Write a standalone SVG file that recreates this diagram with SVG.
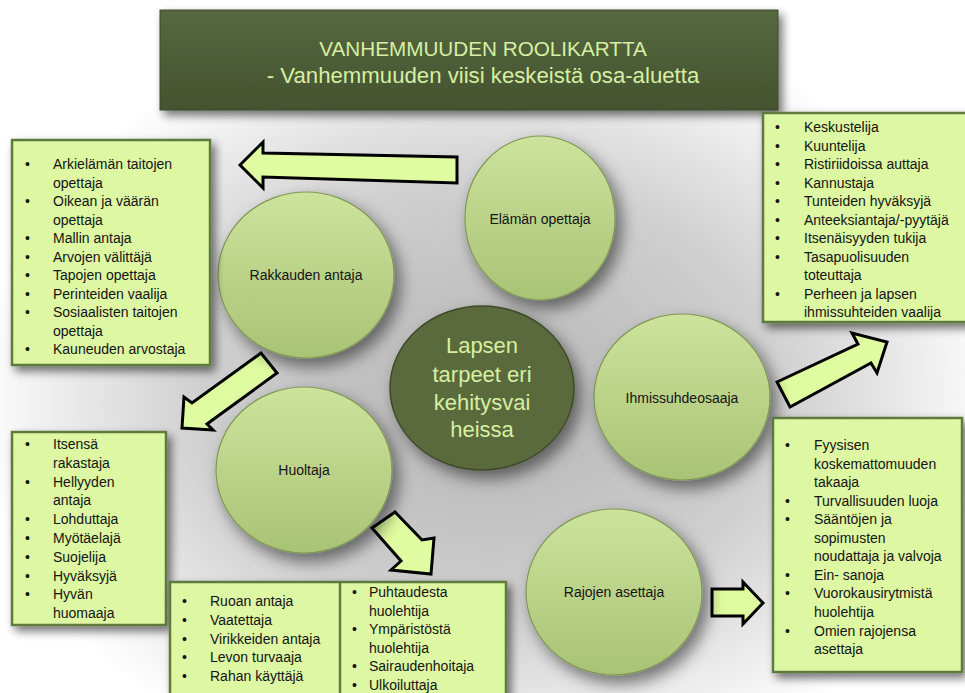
<svg xmlns="http://www.w3.org/2000/svg" width="965" height="693" viewBox="0 0 965 693">
<defs>
  <radialGradient id="bg" cx="490" cy="400" r="520" gradientUnits="userSpaceOnUse" gradientTransform="translate(490 400) scale(1 0.75) translate(-490 -400)">
    <stop offset="0" stop-color="#b4b4b4"/>
    <stop offset="0.55" stop-color="#cfcfcf"/>
    <stop offset="1" stop-color="#ffffff"/>
  </radialGradient>
  <linearGradient id="titleG" x1="0" y1="0" x2="0" y2="1">
    <stop offset="0" stop-color="#566841"/>
    <stop offset="1" stop-color="#45522f"/>
  </linearGradient>
  <linearGradient id="circG" x1="0" y1="0" x2="0" y2="1">
    <stop offset="0" stop-color="#cde39c"/>
    <stop offset="1" stop-color="#a9c376"/>
  </linearGradient>
  <filter id="sh" x="-20%" y="-20%" width="150%" height="150%">
    <feGaussianBlur in="SourceAlpha" stdDeviation="5"/>
    <feOffset dx="4" dy="5" result="b"/>
    <feComponentTransfer><feFuncA type="linear" slope="0.55"/></feComponentTransfer>
    <feMerge><feMergeNode/><feMergeNode in="SourceGraphic"/></feMerge>
  </filter>
  <filter id="shc" x="-30%" y="-30%" width="170%" height="170%">
    <feGaussianBlur in="SourceAlpha" stdDeviation="8"/>
    <feOffset dx="6" dy="8" result="b"/>
    <feComponentTransfer><feFuncA type="linear" slope="0.5"/></feComponentTransfer>
    <feMerge><feMergeNode/><feMergeNode in="SourceGraphic"/></feMerge>
  </filter>
</defs>
<style>
  .box { fill: #ddf7a2; stroke: #5e7a3c; stroke-width: 2.5; }
  .circ { fill: url(#circG); stroke: #7f9757; stroke-width: 1.2; }
  .t { font-family: "Liberation Sans", Arial, sans-serif; font-size: 14px; fill: #141414; }
  .c { text-anchor: middle; }
  .title { font-family: "Liberation Sans", Arial, sans-serif; fill: #d6efa2; text-anchor: middle; }
  .center { font-family: "Liberation Sans", Arial, sans-serif; font-size: 22px; fill: #d6efa2; text-anchor: middle; }
  .arrow { fill: #dffca0; stroke: #000000; stroke-width: 3; stroke-linejoin: miter; }
</style>

<rect x="0" y="0" width="965" height="693" fill="url(#bg)"/>

<g id="title">
  <rect x="160" y="10" width="618" height="100" fill="url(#titleG)" stroke="#3e4a2a" stroke-width="1" filter="url(#sh)"/>
  <text class="title" x="483" y="56" font-size="20.7">VANHEMMUUDEN ROOLIKARTTA</text>
  <text class="title" x="483" y="83" font-size="22.2">- Vanhemmuuden viisi keskeistä osa-aluetta</text>
</g>

<g id="connectors">
  <polygon class="arrow" points="240,165 263,142 263,153 457,157 457,183 263,177 263,188"/>
  <polygon class="arrow" points="182,428 184,397 192,403 261,353 277,373 207,424 213,430"/>
  <polygon class="arrow" points="372,528 395,512 422,540 434,538 431,574 391,570 401,561"/>
  <polygon class="arrow" points="777,382 858,344 852,333 887,342 877,373 871,363 790,407"/>
  <polygon class="arrow" points="712,589 743,589 743,582 763,603 743,624 743,616 712,616"/>
</g>

<g id="elaman-opettaja">
  <ellipse class="circ" cx="540" cy="218" rx="75" ry="82" filter="url(#shc)"/>
  <text class="t c" x="540" y="224">Elämän opettaja</text>
</g>
<g id="rakkauden-antaja">
  <ellipse class="circ" cx="306" cy="275" rx="88" ry="83" filter="url(#shc)"/>
  <text class="t c" x="306" y="280">Rakkauden antaja</text>
</g>
<g id="huoltaja">
  <ellipse class="circ" cx="304" cy="470" rx="88" ry="83" filter="url(#shc)"/>
  <text class="t c" x="304" y="475">Huoltaja</text>
</g>
<g id="ihmissuhdeosaaja">
  <ellipse class="circ" cx="682" cy="397" rx="88" ry="83" filter="url(#shc)"/>
  <text class="t c" x="682" y="403">Ihmissuhdeosaaja</text>
</g>
<g id="rajojen-asettaja">
  <ellipse class="circ" cx="614" cy="592" rx="88" ry="83" filter="url(#shc)"/>
  <text class="t c" x="614" y="597">Rajojen asettaja</text>
</g>
<g id="lapsen-tarpeet">
  <ellipse cx="482" cy="388" rx="92" ry="82" fill="#5a6a3d" stroke="#3e4a28" stroke-width="1.5" filter="url(#shc)"/>
  <text class="center" x="482" y="353">Lapsen</text>
  <text class="center" x="482" y="382">tarpeet eri</text>
  <text class="center" x="482" y="410">kehitysvai</text>
  <text class="center" x="482" y="437">heissa</text>
</g>

<g id="box-elaman-opettaja">
  <rect class="box" x="12" y="140" width="198" height="225" filter="url(#sh)"/>
  <g class="t">
    <text x="25" y="169">•</text><text x="53" y="169">Arkielämän taitojen</text>
    <text x="53" y="187.5">opettaja</text>
    <text x="25" y="206">•</text><text x="53" y="206">Oikean ja väärän</text>
    <text x="53" y="224.5">opettaja</text>
    <text x="25" y="243">•</text><text x="53" y="243">Mallin antaja</text>
    <text x="25" y="261.5">•</text><text x="53" y="261.5">Arvojen välittäjä</text>
    <text x="25" y="280">•</text><text x="53" y="280">Tapojen opettaja</text>
    <text x="25" y="298.5">•</text><text x="53" y="298.5">Perinteiden vaalija</text>
    <text x="25" y="317">•</text><text x="53" y="317">Sosiaalisten taitojen</text>
    <text x="53" y="335.5">opettaja</text>
    <text x="25" y="354">•</text><text x="53" y="354">Kauneuden arvostaja</text>
  </g>
</g>

<g id="box-rakkauden-antaja">
  <rect class="box" x="12" y="432" width="154" height="193" filter="url(#sh)"/>
  <g class="t">
    <text x="25" y="449">•</text><text x="53" y="449">Itsensä</text>
    <text x="53" y="467.8">rakastaja</text>
    <text x="25" y="486.6">•</text><text x="53" y="486.6">Hellyyden</text>
    <text x="53" y="505.4">antaja</text>
    <text x="25" y="524.2">•</text><text x="53" y="524.2">Lohduttaja</text>
    <text x="25" y="543">•</text><text x="53" y="543">Myötäelajä</text>
    <text x="25" y="561.8">•</text><text x="53" y="561.8">Suojelija</text>
    <text x="25" y="580.6">•</text><text x="53" y="580.6">Hyväksyjä</text>
    <text x="25" y="599.4">•</text><text x="53" y="599.4">Hyvän</text>
    <text x="53" y="618.2">huomaaja</text>
  </g>
</g>

<g id="box-huoltaja">
  <rect class="box" x="170" y="582" width="336" height="125" filter="url(#sh)"/>
  <line x1="340" y1="582" x2="340" y2="693" stroke="#5e7a3c" stroke-width="2.5"/>
  <g class="t">
    <text x="182" y="606">•</text><text x="210" y="606">Ruoan antaja</text>
    <text x="182" y="624.7">•</text><text x="210" y="624.7">Vaatettaja</text>
    <text x="182" y="643.5">•</text><text x="210" y="643.5">Virikkeiden antaja</text>
    <text x="182" y="662.2">•</text><text x="210" y="662.2">Levon turvaaja</text>
    <text x="182" y="681">•</text><text x="210" y="681">Rahan käyttäjä</text>
    <text x="352" y="597">•</text><text x="369" y="597">Puhtaudesta</text>
    <text x="369" y="615.6">huolehtija</text>
    <text x="352" y="634.2">•</text><text x="369" y="634.2">Ympäristöstä</text>
    <text x="369" y="652.8">huolehtija</text>
    <text x="352" y="671.4">•</text><text x="369" y="671.4">Sairaudenhoitaja</text>
    <text x="352" y="690">•</text><text x="369" y="690">Ulkoiluttaja</text>
  </g>
</g>

<g id="box-ihmissuhdeosaaja">
  <rect class="box" x="763" y="113" width="210" height="209" filter="url(#sh)"/>
  <g class="t">
    <text x="775" y="132">•</text><text x="804" y="132">Keskustelija</text>
    <text x="775" y="150.5">•</text><text x="804" y="150.5">Kuuntelija</text>
    <text x="775" y="169">•</text><text x="804" y="169">Ristiriidoissa auttaja</text>
    <text x="775" y="187.5">•</text><text x="804" y="187.5">Kannustaja</text>
    <text x="775" y="206">•</text><text x="804" y="206">Tunteiden hyväksyjä</text>
    <text x="775" y="224.5">•</text><text x="804" y="224.5">Anteeksiantaja/-pyytäjä</text>
    <text x="775" y="243">•</text><text x="804" y="243">Itsenäisyyden tukija</text>
    <text x="775" y="261.5">•</text><text x="804" y="261.5">Tasapuolisuuden</text>
    <text x="804" y="280">toteuttaja</text>
    <text x="775" y="298.5">•</text><text x="804" y="298.5">Perheen ja lapsen</text>
    <text x="804" y="317">ihmissuhteiden vaalija</text>
  </g>
</g>

<g id="box-rajojen-asettaja">
  <rect class="box" x="773" y="418" width="189" height="254" filter="url(#sh)"/>
  <g class="t">
    <text x="785" y="450">•</text><text x="814" y="450">Fyysisen</text>
    <text x="814" y="468.5">koskemattomuuden</text>
    <text x="814" y="487">takaaja</text>
    <text x="785" y="505.6">•</text><text x="814" y="505.6">Turvallisuuden luoja</text>
    <text x="785" y="524.2">•</text><text x="814" y="524.2">Sääntöjen ja</text>
    <text x="814" y="542.7">sopimusten</text>
    <text x="814" y="561.3">noudattaja ja valvoja</text>
    <text x="785" y="579.8">•</text><text x="814" y="579.8">Ein- sanoja</text>
    <text x="785" y="598.4">•</text><text x="814" y="598.4">Vuorokausirytmistä</text>
    <text x="814" y="617">huolehtija</text>
    <text x="785" y="635.5">•</text><text x="814" y="635.5">Omien rajojensa</text>
    <text x="814" y="654">asettaja</text>
  </g>
</g>
</svg>
